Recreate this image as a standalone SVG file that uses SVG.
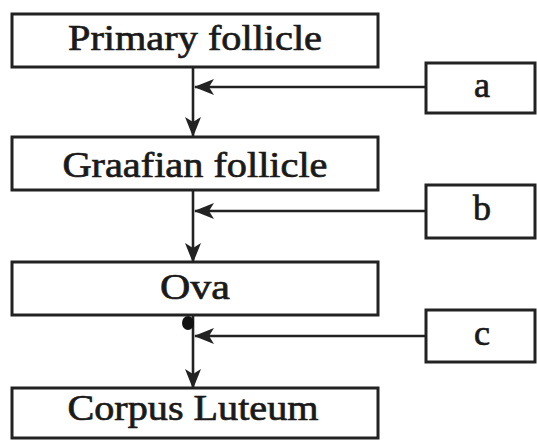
<svg xmlns="http://www.w3.org/2000/svg" width="537" height="441" viewBox="0 0 537 441">
<defs>
<style>
.box{fill:#fff;stroke:#222;stroke-width:3}
.lbl{font-family:'Liberation Serif','Times New Roman',serif;font-size:36px;fill:#1a1a1a;stroke:#1a1a1a;stroke-width:0.7;text-anchor:middle}
.con{fill:none;stroke:#222;stroke-width:2.6}
</style>
<marker id="ah" viewBox="0 0 20 16" refX="19" refY="8" markerWidth="20" markerHeight="16" markerUnits="userSpaceOnUse" orient="auto">
<path d="M0,0 L20,8 L0,16 L5,8 z" fill="#222"/>
</marker>
</defs>
<rect width="537" height="441" fill="#fff"/>
<g id="connectors">
<path class="con" d="M193,67 V136" marker-end="url(#ah)"/>
<path class="con" d="M193,190 V262" marker-end="url(#ah)"/>
<path class="con" d="M193,315 V388" marker-end="url(#ah)"/>
<path class="con" d="M426,87 H195" marker-end="url(#ah)"/>
<path class="con" d="M426,211 H195" marker-end="url(#ah)"/>
<path class="con" d="M426,336 H195" marker-end="url(#ah)"/>
<ellipse cx="188" cy="323" rx="6" ry="7" fill="#111"/>
</g>
<g id="primary-follicle">
<rect class="box" x="12" y="14" width="366" height="53"/>
<text class="lbl" x="195" y="50" textLength="254" lengthAdjust="spacingAndGlyphs">Primary follicle</text>
</g>
<g id="graafian-follicle">
<rect class="box" x="12" y="137" width="366" height="53"/>
<text class="lbl" x="195" y="177" textLength="265" lengthAdjust="spacingAndGlyphs">Graafian follicle</text>
</g>
<g id="ova">
<rect class="box" x="12" y="262" width="366" height="53"/>
<text class="lbl" x="195" y="299" textLength="70" lengthAdjust="spacingAndGlyphs">Ova</text>
</g>
<g id="corpus-luteum">
<rect class="box" x="12" y="388" width="366" height="50"/>
<text class="lbl" x="193" y="420" textLength="251" lengthAdjust="spacingAndGlyphs">Corpus Luteum</text>
</g>
<g id="a">
<rect class="box" x="426" y="63" width="109" height="50"/>
<text class="lbl" x="482" y="97">a</text>
</g>
<g id="b">
<rect class="box" x="426" y="185" width="109" height="53"/>
<text class="lbl" x="482" y="220">b</text>
</g>
<g id="c">
<rect class="box" x="426" y="310" width="109" height="52"/>
<text class="lbl" x="482" y="345">c</text>
</g>
</svg>
